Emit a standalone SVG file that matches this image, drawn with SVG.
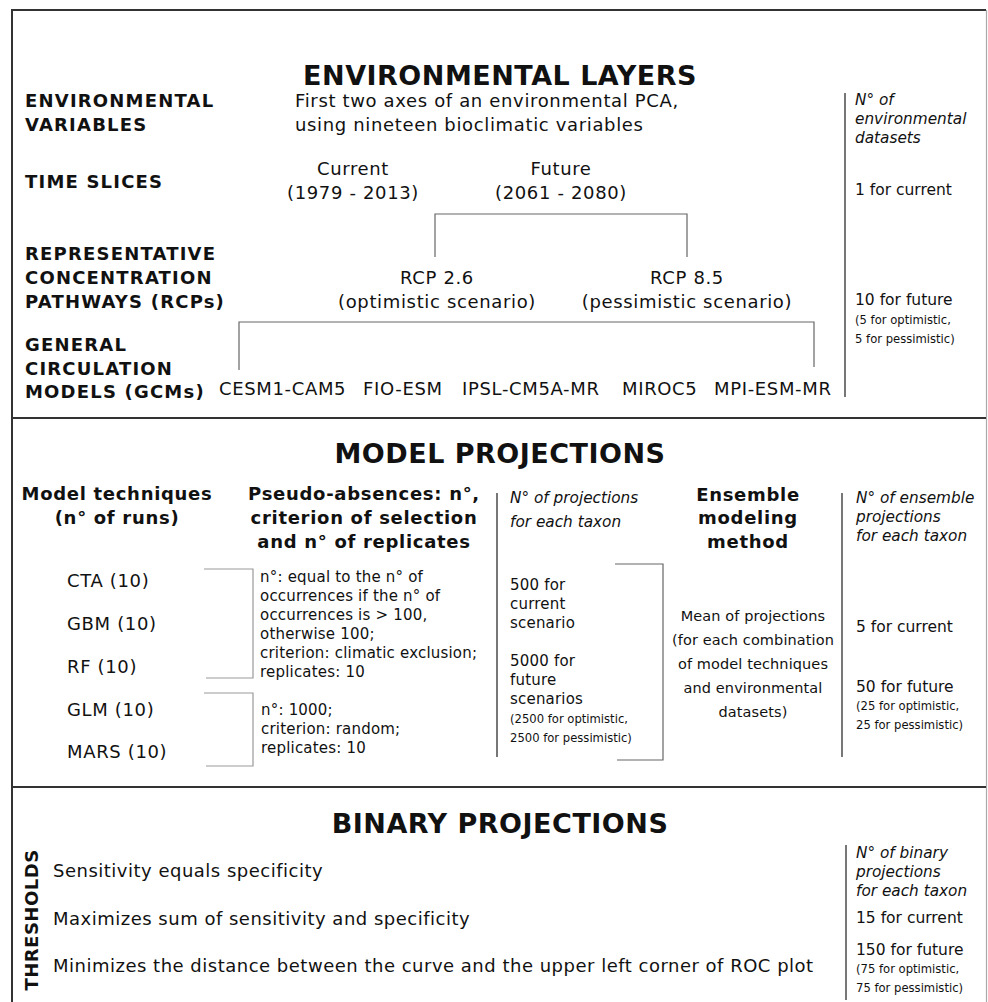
<svg xmlns="http://www.w3.org/2000/svg" width="988" height="1002" viewBox="0 0 988 1002">
<style>
text{font-family:"DejaVu Sans","Noto Sans",sans-serif;fill:#111}
.title{font-size:27px;font-weight:bold;text-anchor:middle;letter-spacing:0.5px}
.lab{font-size:18px;font-weight:bold;letter-spacing:1.2px}
.lbc{font-size:18px;font-weight:bold;text-anchor:middle;letter-spacing:0.7px}
.n{font-size:18px;letter-spacing:0.65px}
.nc{font-size:18px;text-anchor:middle;letter-spacing:0.65px}
.s{font-size:15px;letter-spacing:0.2px}
.sc{font-size:14.5px;text-anchor:middle;letter-spacing:0.1px}
.it{font-size:15.3px;font-style:italic}
.r{font-size:15.5px}
.xs{font-size:11.6px}
.frame{stroke:#333;stroke-width:2;fill:none}
.sep{stroke:#555;stroke-width:1.6;fill:none}
.br{stroke:#666;stroke-width:1.2;fill:none}
.br2{stroke:#999;stroke-width:1.2;fill:none}
</style>
<rect width="988" height="1002" fill="#fff"/>
<g id="frame">
<path class="frame" d="M12,1002 V10 H986"/>
<path d="M986.5,10 V1002" stroke="#aaa" stroke-width="1.2"/>
<path class="frame" d="M12,418 H986"/>
<path class="frame" d="M12,787 H986"/>
</g>
<g id="connectors">
<path class="br" d="M435,257 V214 H687 V257"/>
<path class="br" d="M239,370 V322 H814 V367"/>
<path class="sep" d="M845,93 V397"/>
<path class="br2" d="M204,569 H253 V678 H206"/>
<path class="br2" d="M204,693 H253 V766 H206"/>
<path class="sep" d="M497,493 V757"/>
<path class="br" d="M615,564 H663 V760 H617"/>
<path class="sep" d="M842,493 V757"/>
<path class="sep" d="M846,845 V1000"/>
</g>
<g id="section-environmental">
<text class="title" x="500" y="85">ENVIRONMENTAL LAYERS</text>
<g id="env-vars">
<text class="lab" x="25" y="107">ENVIRONMENTAL</text>
<text class="lab" x="25" y="131">VARIABLES</text>
<text class="n" x="295" y="107">First two axes of an environmental PCA,</text>
<text class="n" x="295" y="131">using nineteen bioclimatic variables</text>
</g>
<g id="time-slices">
<text class="lab" x="25" y="188">TIME SLICES</text>
<text class="nc" x="353" y="175">Current</text>
<text class="nc" x="353" y="199">(1979 - 2013)</text>
<text class="nc" x="561" y="175">Future</text>
<text class="nc" x="561" y="199">(2061 - 2080)</text>
</g>
<g id="rcps">
<text class="lab" x="25" y="260">REPRESENTATIVE</text>
<text class="lab" x="25" y="284">CONCENTRATION</text>
<text class="lab" x="25" y="308">PATHWAYS (RCPs)</text>
<text class="nc" x="437" y="284">RCP 2.6</text>
<text class="nc" x="437" y="308">(optimistic scenario)</text>
<text class="nc" x="687" y="284">RCP 8.5</text>
<text class="nc" x="687" y="308">(pessimistic scenario)</text>
</g>
<g id="gcms">
<text class="lab" x="25" y="351">GENERAL</text>
<text class="lab" x="25" y="375">CIRCULATION</text>
<text class="lab" x="25" y="398">MODELS (GCMs)</text>
<text class="n" x="219" y="395">CESM1-CAM5</text>
<text class="n" x="363" y="395">FIO-ESM</text>
<text class="n" x="462" y="395">IPSL-CM5A-MR</text>
<text class="n" x="622" y="395">MIROC5</text>
<text class="n" x="714" y="395">MPI-ESM-MR</text>
</g>
<g id="env-datasets">
<text class="it" x="855" y="105">N° of</text>
<text class="it" x="855" y="124">environmental</text>
<text class="it" x="855" y="143">datasets</text>
<text class="r" x="855" y="195">1 for current</text>
<text class="r" x="855" y="305">10 for future</text>
<text class="xs" x="855" y="324">(5 for optimistic,</text>
<text class="xs" x="855" y="343">5 for pessimistic)</text>
</g>
</g>
<g id="section-model">
<text class="title" x="500" y="463">MODEL PROJECTIONS</text>
<g id="techniques">
<text class="lbc" x="117" y="500">Model techniques</text>
<text class="lbc" x="117" y="524">(n° of runs)</text>
<text class="n" x="67" y="587">CTA (10)</text>
<text class="n" x="67" y="630">GBM (10)</text>
<text class="n" x="67" y="673">RF (10)</text>
<text class="n" x="67" y="716">GLM (10)</text>
<text class="n" x="67" y="758">MARS (10)</text>
</g>
<g id="pseudo-absences">
<text class="lbc" x="364" y="500">Pseudo-absences: n°,</text>
<text class="lbc" x="364" y="524">criterion of selection</text>
<text class="lbc" x="364" y="548">and n° of replicates</text>
<text class="s" x="260" y="582">n°: equal to the n° of</text>
<text class="s" x="260" y="601">occurrences if the n° of</text>
<text class="s" x="260" y="620">occurrences is &gt; 100,</text>
<text class="s" x="260" y="639">otherwise 100;</text>
<text class="s" x="260" y="658">criterion: climatic exclusion;</text>
<text class="s" x="260" y="677">replicates: 10</text>
<text class="s" x="261" y="715">n°: 1000;</text>
<text class="s" x="261" y="734">criterion: random;</text>
<text class="s" x="261" y="753">replicates: 10</text>
</g>
<g id="projections">
<text class="it" x="510" y="503">N° of projections</text>
<text class="it" x="510" y="527">for each taxon</text>
<text class="s" x="510" y="590">500 for</text>
<text class="s" x="510" y="609">current</text>
<text class="s" x="510" y="628">scenario</text>
<text class="s" x="510" y="666">5000 for</text>
<text class="s" x="510" y="685">future</text>
<text class="s" x="510" y="704">scenarios</text>
<text class="xs" x="510" y="723">(2500 for optimistic,</text>
<text class="xs" x="510" y="742">2500 for pessimistic)</text>
</g>
<g id="ensemble">
<text class="lbc" x="748" y="501">Ensemble</text>
<text class="lbc" x="748" y="524">modeling</text>
<text class="lbc" x="748" y="548">method</text>
<text class="sc" x="753" y="621">Mean of projections</text>
<text class="sc" x="753" y="645">(for each combination</text>
<text class="sc" x="753" y="669">of model techniques</text>
<text class="sc" x="753" y="693">and environmental</text>
<text class="sc" x="753" y="717">datasets)</text>
</g>
<g id="ensemble-count">
<text class="it" x="856" y="503">N° of ensemble</text>
<text class="it" x="856" y="522">projections</text>
<text class="it" x="856" y="541">for each taxon</text>
<text class="r" x="856" y="632">5 for current</text>
<text class="r" x="856" y="692">50 for future</text>
<text class="xs" x="856" y="710">(25 for optimistic,</text>
<text class="xs" x="856" y="729">25 for pessimistic)</text>
</g>
</g>
<g id="section-binary">
<text class="title" x="500" y="833">BINARY PROJECTIONS</text>
<g id="thresholds">
<text class="lbc" style="letter-spacing:0.5px" transform="translate(38,920) rotate(-90)" x="0" y="0">THRESHOLDS</text>
<text class="n" style="letter-spacing:0.5px" x="53" y="877">Sensitivity equals specificity</text>
<text class="n" style="letter-spacing:0.5px" x="53" y="925">Maximizes sum of sensitivity and specificity</text>
<text class="n" style="letter-spacing:0.5px" x="53" y="972">Minimizes the distance between the curve and the upper left corner of ROC plot</text>
</g>
<g id="binary-count">
<text class="it" x="856" y="858">N° of binary</text>
<text class="it" x="856" y="877">projections</text>
<text class="it" x="856" y="896">for each taxon</text>
<text class="r" x="856" y="923">15 for current</text>
<text class="r" x="856" y="955">150 for future</text>
<text class="xs" x="856" y="973">(75 for optimistic,</text>
<text class="xs" x="856" y="992">75 for pessimistic)</text>
</g>
</g>
</svg>
